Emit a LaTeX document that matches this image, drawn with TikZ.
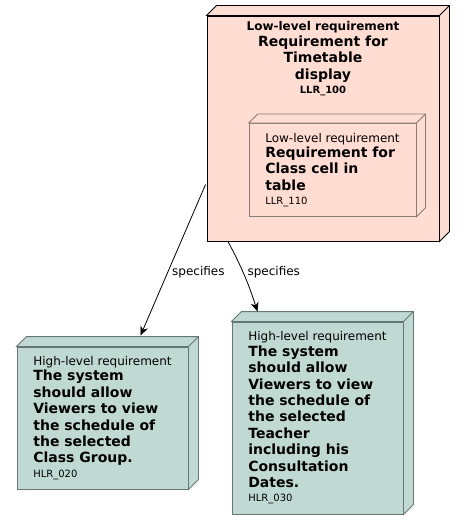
\documentclass[tikz,border=0pt]{standalone}
\usepackage{fontspec}
\setmainfont{DejaVu Sans}
\usetikzlibrary{arrows.meta}
\definecolor{lowfill}{HTML}{FFDDD3}
\definecolor{highfill}{HTML}{C0D9D3}
\definecolor{innerline}{HTML}{8A7A76}
\definecolor{highline}{HTML}{667673}
\newcommand{\reqhead}{\fontsize{9}{11}\selectfont\mdseries}
\newcommand{\reqtext}{\fontsize{10.5}{12.3}\selectfont\bfseries}
\newcommand{\reqid}{\fontsize{7.5}{9}\selectfont\mdseries}
% front face of a requirement box, then its top and right faces
\newcommand{\boxsides}[3]{%
  \draw[#3] (#1.north west) -- ++(#2,-#2) -- ([shift={(#2,-#2)}]#1.north east)
    -- ([shift={(#2,-#2)}]#1.south east) -- (#1.south east) -- (#1.north east) -- cycle;
  \draw[#3] (#1.north east) -- ++(#2,-#2);}
\tikzset{
  lowreq/.style={draw=black, fill=lowfill, line width=.7pt},
  innerreq/.style={draw=innerline, fill=lowfill, line width=.6pt,
    align=left, font=\reqtext, inner sep=1pt},
  highreq/.style={draw=highline, fill=highfill, line width=.7pt,
    align=left, font=\reqtext, inner sep=1pt},
  flow/.style={-{Stealth[length=7pt, width=6pt]}, line width=.6pt},
  relname/.style={font=\fontsize{9}{11}\selectfont, inner sep=3pt},
}

\begin{document}
\begin{tikzpicture}[x=.75pt, y=-.75pt]
\useasboundingbox (0,0) rectangle (465,530);

% Low-level requirements
\node[lowreq, minimum width=174pt, minimum height=168.75pt,
  label={[anchor=north, align=center, font=\reqtext, inner sep=4.5pt]north:{{\reqhead\bfseries Low-level requirement}\\[-.75pt]Requirement for\\Timetable\\display\\[-1.5pt]{\reqid\bfseries LLR\_100}}}]
  (llr100) at (323,128.5) {};
\boxsides{llr100}{10}{lowreq}

\node[innerreq, minimum width=125.25pt, minimum height=69.75pt] (llr110) at (332.5,170)
  {{\reqhead Low-level requirement}\\[-.75pt]Requirement for\\Class cell in\\table\\[-1.5pt]{\reqid LLR\_110}};
\boxsides{llr110}{9}{innerreq}

% High-level requirements
\node[highreq, minimum width=128.25pt, minimum height=106.5pt] (hlr020) at (102.5,418)
  {{\reqhead High-level requirement}\\[-.75pt]The system\\should allow\\Viewers to view\\the schedule of\\the selected\\Class Group.\\[-1.5pt]{\reqid HLR\_020}};
\boxsides{hlr020}{10}{highreq}

\node[highreq, minimum width=128.25pt, minimum height=144pt] (hlr030) at (317.5,418)
  {{\reqhead High-level requirement}\\[-.75pt]The system\\should allow\\Viewers to view\\the schedule of\\the selected\\Teacher\\including his\\Consultation\\Dates.\\[-1.5pt]{\reqid HLR\_030}};
\boxsides{hlr030}{10}{highreq}

% Relations
\draw[flow] ([shift={(-1,56)}]llr100.west) -- node[relname, pos=.58, right] {specifies}
  ([shift={(38,-11)}]hlr020.north);
\draw[flow] ([shift={(-95,0)}]llr100.south) to[bend left=5] node[relname, pos=.45, right] {specifies}
  ([shift={(-60,-10)}]hlr030.north);

\end{tikzpicture}
\end{document}
